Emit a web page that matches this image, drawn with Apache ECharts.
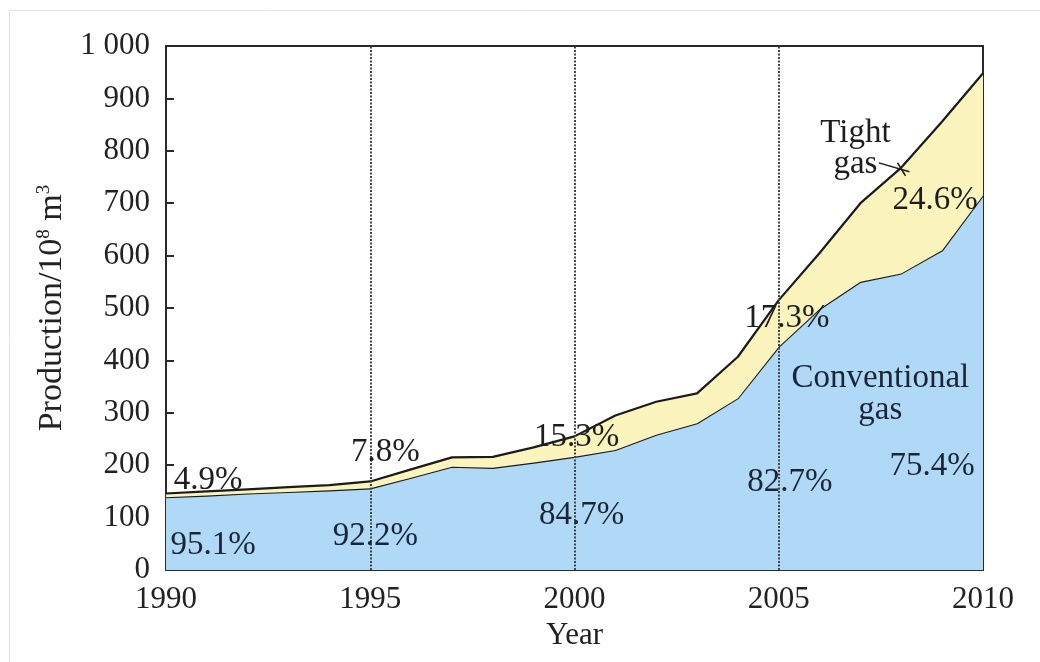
<!DOCTYPE html>
<html>
<head>
<meta charset="utf-8">
<script src="https://cdn.jsdelivr.net/npm/echarts@6/dist/echarts.min.js"></script>
<style>
  html, body { margin: 0; padding: 0; background: #ffffff; }
  #chart { width: 1040px; height: 662px; }
</style>
</head>
<body>
<div id="chart"></div>
<script>
// Annual gas production (10^8 m^3), 1990-2010
const years = ['1990', '1991', '1992', '1993', '1994', '1995', '1996', '1997', '1998', '1999',
               '2000', '2001', '2002', '2003', '2004', '2005', '2006', '2007', '2008', '2009', '2010'];
const conventionalGas = [138.8, 142, 146, 149, 152, 155.8, 176, 197, 195, 205,
                         216, 229, 258, 280, 328, 426, 498, 550, 566, 610, 714.8];
const tightGas = [7.2, 8, 8, 9, 10, 13.2, 16, 18, 21, 29,
                  39, 66, 63, 57, 79, 89, 107, 150, 202, 246, 233.2];

// Years where the share of each gas type is annotated
const shareYears = ['1990', '1995', '2000', '2005', '2010'];
const yTickLabels = { 1000: '1 000' };

const SERIF = '"Liberation Serif", "Times New Roman", serif';
const BLUE_FILL = '#b0d9f8';
const YELLOW_FILL = '#fbf4bd';
const EDGE = '#1b1b1b';

function share(year, kind) {
  const i = years.indexOf(year);
  const total = conventionalGas[i] + tightGas[i];
  const v = kind === 'tight' ? tightGas[i] / total : conventionalGas[i] / total;
  return (v * 100).toFixed(1) + '%';
}

// Placement of the share annotations: height in axis units and a pixel nudge
const shareLabelPlacement = {
  tight: [
    { y: 172, dx: 42 }, { y: 225, dx: 15 }, { y: 254, dx: 2 }, { y: 481, dx: 8 }, { y: 706, dx: -48 }
  ],
  conventional: [
    { y: 48, dx: 47 }, { y: 65, dx: 5 }, { y: 105, dx: 7 }, { y: 168, dx: 11 }, { y: 197, dx: -51 }
  ]
};

const shareMarks = [];
shareYears.forEach(function (yr, k) {
  ['tight', 'conventional'].forEach(function (kind) {
    const p = shareLabelPlacement[kind][k];
    shareMarks.push({
      coord: [yr, p.y],
      value: share(yr, kind),
      label: {
        offset: [p.dx, 0],
        color: kind === 'tight' ? '#1e1e1e' : '#1a2535'
      }
    });
  });
});
// Series names written inside the plot
shareMarks.push({
  coord: ['2007', 803], value: 'Tight\ngas',
  label: { offset: [-5, 0], color: '#1e1e1e', lineHeight: 31 }
});
shareMarks.push({
  coord: ['2008', 336], value: 'Conventional\ngas',
  label: { offset: [-21, 0], color: '#1a2535', lineHeight: 32 }
});

const chart = echarts.init(document.getElementById('chart'), null, { renderer: 'canvas' });

const frame = {
  type: 'rect',
  silent: true,
  shape: { x: 9.5, y: 10.5, width: 1100, height: 700 },
  style: { fill: 'none', stroke: '#e2e2e2', lineWidth: 1 },
  z: 0
};

const option = {
  animation: false,
  backgroundColor: '#ffffff',
  grid: { left: 166, right: 57, top: 46, bottom: 92, containLabel: false },
  xAxis: [
    {
      type: 'category',
      data: years,
      boundaryGap: false,
      name: 'Year',
      nameLocation: 'middle',
      nameGap: 50,
      nameTextStyle: { fontFamily: SERIF, fontSize: 31, color: '#222' },
      axisLine: { show: true, onZero: false, lineStyle: { color: '#2a2a2a', width: 2 } },
      axisTick: { show: false },
      axisLabel: {
        interval: 4,
        margin: 14,
        fontFamily: SERIF, fontSize: 31, color: '#222'
      },
      splitLine: { show: false }
    },
    {
      type: 'category',
      data: years,
      boundaryGap: false,
      position: 'top',
      axisLine: { show: true, onZero: false, lineStyle: { color: '#2a2a2a', width: 2 } },
      axisTick: { show: false },
      axisLabel: { show: false },
      splitLine: { show: false }
    }
  ],
  yAxis: [
    {
      type: 'value',
      min: 0, max: 1000, interval: 100,
      name: 'Production/10{sup|8} m{sup|3}',
      nameLocation: 'middle',
      nameGap: 96,
      nameRotate: 90,
      nameTextStyle: {
        fontFamily: SERIF, fontSize: 34, color: '#222',
        rich: {
          sup: { fontFamily: SERIF, fontSize: 19, color: '#222', verticalAlign: 'top', padding: [0, 0, 16, 0] }
        }
      },
      axisLine: { show: true, onZero: false, lineStyle: { color: '#2a2a2a', width: 2 } },
      axisTick: { show: true, inside: true, length: 8, lineStyle: { color: '#2a2a2a', width: 2 } },
      axisLabel: {
        margin: 16,
        fontFamily: SERIF, fontSize: 31, color: '#222',
        formatter: function (v) { return yTickLabels[v] || String(v); }
      },
      splitLine: { show: false }
    },
    {
      type: 'value',
      min: 0, max: 1000, interval: 100,
      position: 'right',
      axisLine: { show: true, onZero: false, lineStyle: { color: '#2a2a2a', width: 2 } },
      axisTick: { show: false },
      axisLabel: { show: false },
      splitLine: { show: false }
    }
  ],
  series: [
    {
      name: 'Conventional gas',
      type: 'line',
      stack: 'production',
      data: conventionalGas,
      symbol: 'none',
      lineStyle: { color: EDGE, width: 2.2 },
      areaStyle: { color: BLUE_FILL, opacity: 1 },
      z: 2
    },
    {
      name: 'Tight gas',
      type: 'line',
      stack: 'production',
      data: tightGas,
      symbol: 'none',
      lineStyle: { color: EDGE, width: 2.2 },
      areaStyle: { color: YELLOW_FILL, opacity: 1 },
      z: 3
    },
    {
      // Reference lines every five years and the in-plot annotations
      name: 'annotations',
      type: 'line',
      data: [],
      symbol: 'none',
      z: 6,
      markLine: {
        silent: true,
        symbol: 'none',
        label: { show: false },
        lineStyle: { color: '#444', width: 2, type: [2, 1.5] },
        data: [{ xAxis: '1995' }, { xAxis: '2000' }, { xAxis: '2005' }]
      },
      markPoint: {
        silent: true,
        symbol: 'rect',
        symbolSize: 0,
        label: {
          show: true,
          position: 'inside',
          fontFamily: SERIF,
          fontSize: 33,
          align: 'center',
          verticalAlign: 'middle',
          formatter: function (p) { return p.value; }
        },
        data: shareMarks
      }
    }
  ],
  graphic: [frame]
};

chart.setOption(option);

// Short leader from the "Tight gas" caption to the upper boundary
const p07 = chart.convertToPixel({ xAxisIndex: 0, yAxisIndex: 0 }, ['2007', 777]);
const p08 = chart.convertToPixel({ xAxisIndex: 0, yAxisIndex: 0 }, ['2008', 760]);
const step = p08[0] - p07[0];
const a = [p07[0] + 0.45 * step, p07[1]];
const b = [p07[0] + 1.2 * step, p08[1]];
chart.setOption({
  graphic: [
    frame,
    {
      type: 'polyline',
      silent: true,
      z: 10,
      shape: { points: [a, b] },
      style: { stroke: '#1e1e1e', lineWidth: 1.5, fill: 'none' }
    },
    {
      type: 'polyline',
      silent: true,
      z: 10,
      shape: { points: [[b[0] - 12, b[1] - 9], [b[0] - 4, b[1] + 4]] },
      style: { stroke: '#1e1e1e', lineWidth: 1.5, fill: 'none' }
    }
  ]
});
</script>
</body>
</html>
